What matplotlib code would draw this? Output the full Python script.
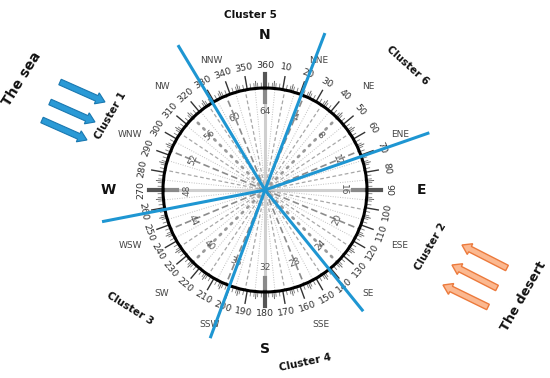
import numpy as np
import matplotlib
matplotlib.use("Agg")
import matplotlib.pyplot as plt
from matplotlib.patches import Circle, FancyArrow

# ---- data ----
n_rays = 64
ray_labels = [4, 8, 12, 16, 20, 24, 28, 32, 36, 40, 44, 48, 52, 56, 60, 64]
degree_labels = list(range(10, 361, 10))
compass_names = ["NNE", "NE", "ENE", "ESE", "SE", "SSE", "SSW", "SW", "WSW", "WNW", "NW", "NNW"]
compass_bearings = [22.5, 45, 67.5, 112.5, 135, 157.5, 202.5, 225, 247.5, 292.5, 315, 337.5]
cardinal_names = ["N", "E", "S", "W"]
cardinal_bearings = [0, 90, 180, 270]
# cluster boundary rays (bearing deg, length px)
boundary_bearings = [329, 141, 20.9, 200.3, 70.8, 259]
boundary_lengths = [169, 156, 168, 158, 174, 166]
cluster_names = ["Cluster 1", "Cluster 2", "Cluster 3", "Cluster 4", "Cluster 5", "Cluster 6"]

R = 102


def pol(b, r):
    t = np.deg2rad(b)
    return r * np.sin(t), r * np.cos(t)


fig = plt.figure(figsize=(5.5, 3.78), dpi=100)
ax = fig.add_axes([0, 0, 1, 1])
ax.set_xlim(-265, 285)
ax.set_ylim(-188, 190)
ax.axis("off")

# radial rays
for i in range(n_rays):
    b = i * 360 / n_rays
    x, y = pol(b, R)
    if i % 16 == 0:
        ax.plot([0, x], [0, y], color="#cfcfcf", lw=2.2, zorder=1)
        x1, y1 = pol(b, 88)
        x2, y2 = pol(b, 100)
        ax.plot([x1, x2], [y1, y2], color="#8a8a8a", lw=3, zorder=2)
    elif i % 8 == 0:
        ax.plot([0, x], [0, y], color="#9a9a9a", lw=2.0, ls=(0, (0.6, 2.2)),
                dash_capstyle="round", zorder=1)
    elif i % 4 == 0:
        ax.plot([0, x], [0, y], color="#8c8c8c", lw=1.2, ls=(0, (4, 2)), zorder=1)
    elif i % 2 == 0:
        ax.plot([0, x], [0, y], color="#a8a8a8", lw=0.9, ls=(0, (3, 2)), zorder=1)
    else:
        ax.plot([0, x], [0, y], color="#c0c0c0", lw=0.7, ls=(0, (1, 1.5)), zorder=1)

# ray number labels
for v in ray_labels:
    b = (v % 64) * 360 / n_rays
    x, y = pol(b, 78)
    rot = -b
    if 90 < b < 270:
        rot = 180 - b
    ax.text(x, y, str(v), fontsize=6.5, color="#555555", rotation=rot,
            ha="center", va="center", rotation_mode="anchor", zorder=3)

# main circle
ax.add_patch(Circle((0, 0), R, fill=False, ec="black", lw=2.2, zorder=4))

# ticks
for d in range(0, 360, 2):
    if d % 10 == 0:
        r2, c, lw = 115, "#333333", 1.0
    else:
        r2, c, lw = 107, "#777777", 0.6
    x1, y1 = pol(d, R)
    x2, y2 = pol(d, r2)
    ax.plot([x1, x2], [y1, y2], color=c, lw=lw, zorder=3)
for d in range(5, 360, 10):
    x1, y1 = pol(d, R)
    x2, y2 = pol(d, 109)
    ax.plot([x1, x2], [y1, y2], color="#666666", lw=0.7, zorder=3)
for b in cardinal_bearings:
    x1, y1 = pol(b, R)
    x2, y2 = pol(b, 116)
    ax.plot([x1, x2], [y1, y2], color="#555555", lw=3, zorder=3)

# degree labels
for d in degree_labels:
    b = d % 360
    x, y = pol(b, 124)
    rot = -b
    if 90 < b < 270:
        rot = 180 - b
    ax.text(x, y, str(d), fontsize=6.8, color="#333333", rotation=rot,
            ha="center", va="center", rotation_mode="anchor", zorder=5)

# compass names
for name, b in zip(compass_names, compass_bearings):
    r = 140 if name in ("NNE", "NNW") else 146
    x, y = pol(b, r)
    ax.text(x, y, name, fontsize=6.5, color="#444444", ha="center", va="center", zorder=5)

cardinal_r = [155, 157, 159, 157]
for name, b, r in zip(cardinal_names, cardinal_bearings, cardinal_r):
    x, y = pol(b, r)
    ax.text(x, y, name, fontsize=10, fontweight="bold", color="#111111",
            ha="center", va="center", zorder=5)

# cluster boundaries
for b, L in zip(boundary_bearings, boundary_lengths):
    x, y = pol(b, L)
    ax.plot([0, x], [0, y], color="#1e96d2", lw=2.2, zorder=6, solid_capstyle="butt")

# cluster labels (pixel positions relative to centre)
cluster_pos = [(-154, 74, 60), (166, -57, 60), (-135, -118, -32),
               (40, -173, 12), (-15, 175, 0), (143, 125, -42)]
for name, (x, y, rot) in zip(cluster_names, cluster_pos):
    ax.text(x, y, name, fontsize=7.5, fontweight="bold", color="#111111",
            rotation=rot, ha="center", va="center", rotation_mode="anchor", zorder=7)

ax.text(-243, 111, "The sea", fontsize=10, fontweight="bold", color="#111111",
        rotation=58, ha="center", va="center", rotation_mode="anchor")
ax.text(259, -106, "The desert", fontsize=9.3, fontweight="bold", color="#111111",
        rotation=60, ha="center", va="center", rotation_mode="anchor")

# arrows (tail -> head, pixel offsets from centre)
sea_arrows = [((-205, 108), (-160, 88)), ((-215, 88), (-170, 68)), ((-223, 70), (-178, 50))]
for (x0, y0), (x1, y1) in sea_arrows:
    ax.add_patch(FancyArrow(x0, y0, x1 - x0, y1 - y0, width=6, head_width=12,
                            head_length=9, length_includes_head=True,
                            fc="#2a9ad6", ec="#1a78b0", lw=0.8, zorder=6))
desert_arrows = [((242, -78), (197, -55)), ((232, -98), (187, -75)), ((223, -117), (178, -95))]
for (x0, y0), (x1, y1) in desert_arrows:
    ax.add_patch(FancyArrow(x0, y0, x1 - x0, y1 - y0, width=6, head_width=12,
                            head_length=9, length_includes_head=True,
                            fc="#fbb890", ec="#ec7a3c", lw=1.0, zorder=6))

fig.savefig("out.png", dpi=100)
